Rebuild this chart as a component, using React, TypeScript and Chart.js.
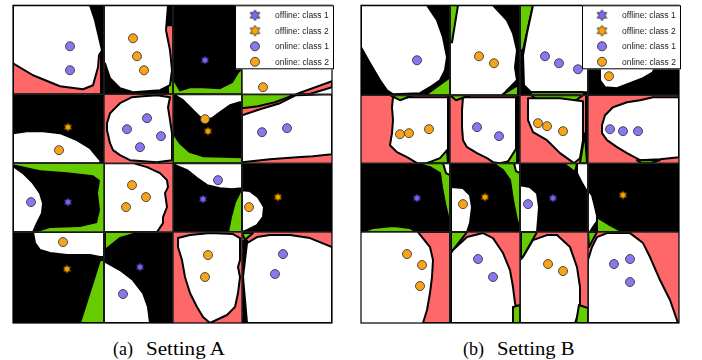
import React, { useEffect, useRef } from 'react';
import { Chart, registerables } from 'chart.js';
Chart.register(...registerables);

type Region = { t: number; c: string; p: number[] };

const LEGEND_LABELS = ['offline: class 1', 'offline: class 2', 'online: class 1', 'online: class 2'];
const CAPTION_A = ['(a)', 'Setting A'];
const CAPTION_B = ['(b)', 'Setting B'];

const FILL: Record<string, string> = { k: '#000000', w: '#ffffff', r: '#ff6868', g: '#66cc00' };
const PURPLE = '#8877ee';
const ORANGE = '#f7a41c';
const PURPLE_STAR = '#7b6af0';
const ORANGE_STAR = '#ffa500';

// ---------- Setting A ----------
const colEdgesA = [0, 91, 160, 229, 319];
const rowEdgesA = [0, 89, 158, 227, 318];
const tileFillA = ['k', 'k', 'k', 'w', 'k', 'r', 'k', 'r', 'g', 'r', 'k', 'k', 'k', 'k', 'r', 'r'];
const regionsA: Region[] = [
  { t: 0, c: 'r', p: [0, 50, 88, 40, 88, 89, 0, 89] },
  { t: 0, c: 'w', p: [0, 0, 77, 0, 82, 15, 85, 28, 89, 45, 86, 50, 85, 62, 80, 80, 70, 84, 47, 81, 20, 70, 0, 58] },
  { t: 1, c: 'r', p: [153, 20, 160, 20, 160, 80, 153, 80] },
  { t: 1, c: 'g', p: [155, 75, 160, 75, 160, 89, 155, 89] },
  { t: 1, c: 'w', p: [91, 0, 155, 0, 153, 25, 157, 45, 159, 65, 157, 80, 147, 85, 120, 87, 107, 83, 97, 73, 92, 58, 91, 58] },
  { t: 2, c: 'g', p: [160, 73, 167, 85, 177, 82, 190, 82, 207, 83, 219, 77, 225, 67, 229, 63, 229, 89, 160, 89] },
  { t: 3, c: 'r', p: [283, 89, 319, 76, 319, 82, 296, 89] },
  { t: 4, c: 'w', p: [0, 128, 14, 126, 30, 126, 47, 128, 64, 135, 77, 143, 87, 155, 88, 158, 0, 158] },
  { t: 5, c: 'w', p: [119, 92, 130, 91, 144, 90, 157, 92, 155, 102, 157, 115, 159, 128, 159, 155, 144, 157, 117, 155, 107, 150, 100, 145, 97, 138, 94, 125, 94, 118, 97, 108, 107, 98] },
  { t: 6, c: 'w', p: [160, 89, 170, 95, 180, 105, 187, 112, 192, 115, 199, 113, 207, 107, 217, 100, 227, 97, 229, 97, 229, 89] },
  { t: 6, c: 'g', p: [160, 128, 167, 138, 177, 147, 190, 151, 229, 152, 229, 158, 160, 158] },
  { t: 7, c: 'g', p: [229, 89, 283, 89, 262, 97, 245, 101, 229, 103] },
  { t: 7, c: 'w', p: [229, 110, 247, 104, 257, 101, 267, 98, 283, 90, 319, 89, 319, 149, 300, 151, 284, 152, 257, 154, 229, 157] },
  { t: 8, c: 'k', p: [0, 159, 27, 165, 54, 167, 80, 170, 87, 175, 85, 188, 87, 205, 84, 218, 67, 222, 37, 223, 24, 227, 0, 227] },
  { t: 8, c: 'w', p: [0, 161, 10, 168, 20, 178, 27, 188, 30, 198, 29, 208, 24, 218, 20, 227, 0, 227] },
  { t: 9, c: 'w', p: [91, 158, 120, 158, 134, 162, 147, 168, 154, 175, 155, 182, 152, 188, 154, 202, 150, 212, 150, 218, 144, 227, 91, 227] },
  { t: 10, c: 'w', p: [160, 158, 229, 158, 229, 183, 219, 184, 207, 183, 194, 180, 184, 173, 174, 165, 162, 160] },
  { t: 10, c: 'g', p: [215, 227, 218, 212, 222, 197, 228, 185, 229, 185, 229, 227] },
  { t: 11, c: 'w', p: [229, 185, 237, 186, 245, 192, 251, 202, 250, 212, 244, 220, 234, 225, 229, 227] },
  { t: 12, c: 'w', p: [20, 227, 91, 227, 91, 252, 87, 252, 77, 250, 54, 250, 37, 248, 27, 245, 22, 238] },
  { t: 12, c: 'g', p: [67, 318, 87, 255, 91, 255, 91, 318] },
  { t: 13, c: 'g', p: [92, 227, 127, 227, 107, 233, 92, 245] },
  { t: 13, c: 'w', p: [91, 256, 107, 265, 120, 275, 130, 288, 135, 302, 137, 318, 91, 318] },
  { t: 14, c: 'w', p: [165, 233, 177, 230, 197, 228, 220, 229, 227, 233, 227, 255, 225, 262, 227, 272, 225, 288, 222, 302, 214, 310, 197, 318, 190, 312, 184, 302, 177, 288, 172, 272, 169, 255, 165, 242] },
  { t: 15, c: 'k', p: [229, 235, 235, 235, 237, 318, 229, 318] },
  { t: 15, c: 'g', p: [229, 228, 240, 228, 232, 235] },
  { t: 15, c: 'w', p: [234, 238, 244, 232, 257, 230, 277, 230, 297, 233, 319, 242, 319, 318, 234, 318, 232, 295, 230, 272, 232, 255] },
];
const offline1A = [[192, 55], [55, 197], [190, 194], [127, 262]];
const offline2A = [[55, 122], [195, 126], [265, 192], [54, 264]];
const online1A = [[57, 41], [57, 65], [134, 113], [114, 124], [148, 131], [127, 142], [249, 127], [274, 123], [18, 197], [205, 175], [110, 289], [270, 249], [262, 269]];
const online2A = [[120, 33], [124, 51], [131, 65], [250, 82], [46, 145], [192, 114], [119, 180], [133, 192], [113, 202], [236, 202], [50, 237], [195, 250], [192, 272]];

// ---------- Setting B ----------
const colEdgesB = [0, 89, 159, 227, 318];
const rowEdgesB = [0, 90, 158, 227, 318];
const tileFillB = ['k', 'k', 'k', 'k', 'r', 'r', 'r', 'r', 'k', 'k', 'k', 'k', 'w', 'r', 'r', 'r'];
const regionsB: Region[] = [
  { t: 0, c: 'w', p: [0, 0, 66, 0, 76, 15, 82, 32, 86, 52, 84, 65, 79, 75, 69, 82, 59, 88, 32, 89, 26, 85, 19, 75, 9, 58, 0, 42] },
  { t: 0, c: 'g', p: [67, 88, 89, 72, 89, 90, 67, 90] },
  { t: 1, c: 'w', p: [89, 0, 132, 0, 146, 15, 152, 28, 156, 45, 154, 62, 156, 75, 146, 85, 142, 90, 89, 90] },
  { t: 1, c: 'g', p: [89, 0, 97, 0, 91, 37, 89, 37] },
  { t: 1, c: 'g', p: [142, 89, 157, 80, 157, 90, 142, 90] },
  { t: 2, c: 'g', p: [159, 0, 172, 0, 162, 45, 159, 45] },
  { t: 2, c: 'w', p: [172, 0, 227, 0, 227, 87, 170, 87, 163, 80, 162, 50, 166, 28] },
  { t: 2, c: 'g', p: [170, 87, 222, 87, 224, 90, 170, 90] },
  { t: 3, c: 'w', p: [239, 40, 300, 40, 292, 67, 282, 73, 269, 78, 256, 83, 244, 82, 239, 75] },
  { t: 4, c: 'w', p: [32, 92, 89, 92, 89, 145, 85, 155, 64, 158, 56, 158, 46, 152, 36, 147, 29, 140, 31, 128, 32, 115, 31, 102] },
  { t: 4, c: 'g', p: [29, 90, 52, 90, 39, 95] },
  { t: 4, c: 'g', p: [66, 158, 79, 153, 86, 145, 87, 158] },
  { t: 4, c: 'k', p: [86, 90, 89, 90, 89, 158, 86, 158] },
  { t: 5, c: 'w', p: [102, 92, 155, 92, 155, 145, 152, 155, 139, 158, 132, 157, 126, 153, 116, 148, 106, 142, 102, 135, 101, 122, 101, 105] },
  { t: 5, c: 'g', p: [89, 90, 109, 90, 95, 95] },
  { t: 5, c: 'g', p: [146, 158, 156, 142, 156, 158] },
  { t: 5, c: 'k', p: [155, 90, 159, 90, 159, 158, 155, 158] },
  { t: 6, c: 'g', p: [170, 90, 222, 90, 215, 95, 175, 94] },
  { t: 6, c: 'w', p: [167, 93, 199, 93, 222, 96, 222, 135, 219, 153, 213, 158, 199, 148, 186, 135, 172, 127, 167, 115] },
  { t: 6, c: 'k', p: [224, 90, 227, 90, 227, 158, 224, 158] },
  { t: 6, c: 'g', p: [219, 158, 224, 128, 226, 158] },
  { t: 7, c: 'w', p: [241, 120, 244, 110, 252, 102, 266, 97, 279, 95, 292, 92, 318, 92, 318, 152, 299, 154, 279, 155, 266, 148, 256, 142, 246, 135, 241, 128] },
  { t: 7, c: 'g', p: [276, 155, 299, 155, 290, 158, 280, 158] },
  { t: 8, c: 'g', p: [0, 227, 12, 223, 32, 221, 49, 223, 56, 227] },
  { t: 8, c: 'g', p: [54, 158, 69, 162, 79, 168, 81, 182, 84, 198, 89, 220, 89, 158] },
  { t: 8, c: 'w', p: [82, 158, 89, 158, 89, 170, 85, 168] },
  { t: 9, c: 'w', p: [90, 182, 102, 183, 109, 190, 111, 202, 109, 218, 106, 227, 90, 227] },
  { t: 9, c: 'g', p: [132, 158, 142, 165, 149, 175, 152, 195, 156, 215, 159, 222, 159, 158] },
  { t: 9, c: 'w', p: [153, 158, 159, 158, 159, 168, 155, 166] },
  { t: 10, c: 'w', p: [159, 180, 169, 182, 176, 188, 178, 202, 177, 215, 176, 227, 159, 227] },
  { t: 10, c: 'g', p: [202, 158, 216, 158, 214, 167] },
  { t: 10, c: 'w', p: [216, 158, 227, 158, 227, 188, 221, 178, 216, 168] },
  { t: 11, c: 'w', p: [227, 185, 231, 190, 234, 202, 237, 215, 232, 222, 229, 227, 227, 227] },
  { t: 11, c: 'g', p: [236, 212, 249, 220, 262, 227, 236, 227] },
  { t: 12, c: 'r', p: [57, 227, 69, 242, 72, 255, 71, 272, 69, 288, 66, 305, 62, 318, 89, 318, 89, 227] },
  { t: 13, c: 'g', p: [90, 227, 106, 227, 92, 245, 90, 245] },
  { t: 13, c: 'w', p: [92, 245, 106, 232, 122, 228, 132, 233, 142, 248, 149, 265, 152, 282, 154, 298, 156, 305, 156, 318, 90, 318, 90, 248] },
  { t: 13, c: 'g', p: [152, 302, 159, 300, 159, 318, 152, 318] },
  { t: 14, c: 'g', p: [160, 227, 176, 227, 162, 252, 160, 252] },
  { t: 14, c: 'w', p: [162, 252, 172, 235, 186, 230, 196, 230, 209, 242, 216, 262, 219, 282, 219, 298, 217, 310, 214, 318, 159, 318, 159, 255] },
  { t: 14, c: 'g', p: [218, 300, 227, 303, 227, 318, 215, 318] },
  { t: 15, c: 'g', p: [227, 227, 236, 227, 228, 242] },
  { t: 15, c: 'w', p: [231, 242, 236, 232, 246, 228, 269, 228, 282, 238, 289, 252, 299, 275, 309, 295, 317, 318, 227, 318, 227, 255] },
];
const offline1B = [[56, 193], [192, 193]];
const offline2B = [[124, 192], [262, 190]];
const online1B = [[56, 55], [184, 51], [198, 58], [217, 64], [116, 122], [138, 131], [249, 124], [262, 126], [277, 126], [167, 199], [117, 254], [132, 272], [253, 259], [269, 254], [269, 277]];
const online2B = [[118, 51], [133, 58], [248, 71], [39, 129], [48, 128], [68, 124], [177, 118], [186, 121], [202, 126], [102, 199], [46, 249], [61, 260], [59, 281], [187, 259], [202, 266]];

function makeStar(r: number, fill: string, stroke: string, lw: number): HTMLCanvasElement {
  const s = Math.ceil(2 * r + 2 * lw + 2);
  const c = document.createElement('canvas');
  c.width = s;
  c.height = s;
  const ctx = c.getContext('2d')!;
  ctx.translate(s / 2, s / 2);
  ctx.beginPath();
  for (let i = 0; i < 12; i++) {
    const a = -Math.PI / 2 + (i * Math.PI) / 6;
    const rr = i % 2 === 0 ? r : r * 0.58;
    ctx.lineTo(rr * Math.cos(a), rr * Math.sin(a));
  }
  ctx.closePath();
  ctx.fillStyle = fill;
  ctx.fill();
  if (lw > 0) {
    ctx.lineWidth = lw;
    ctx.strokeStyle = stroke;
    ctx.lineJoin = 'miter';
    ctx.stroke();
  }
  return c;
}

type PanelProps = {
  left: number;
  width: number;
  height: number;
  pad: { left: number; right: number; top: number; bottom: number };
  xMax: number;
  yMax: number;
  cols: number[];
  rows: number[];
  fills: string[];
  regions: Region[];
  off1: number[][];
  off2: number[][];
  on1: number[][];
  on2: number[][];
};

function Panel(props: PanelProps) {
  const ref = useRef<HTMLCanvasElement>(null);
  useEffect(() => {
    const canvas = ref.current;
    if (!canvas) return;
    const starP = makeStar(4, PURPLE_STAR, '#3d2f9a', 0.5);
    const starO = makeStar(4, ORANGE_STAR, '#8a5a00', 0.5);
    const legStarP = makeStar(5.5, PURPLE_STAR, '#222', 0.8);
    const legStarO = makeStar(5.5, ORANGE_STAR, '#222', 0.8);
    const toXY = (a: number[][]) => a.map(([x, y]) => ({ x, y }));

    const regionPlugin = {
      id: 'regions',
      beforeDatasetsDraw(chart: any) {
        const { ctx } = chart;
        const xs = chart.scales.x;
        const ys = chart.scales.y;
        const px = (v: number) => xs.getPixelForValue(v);
        const py = (v: number) => ys.getPixelForValue(v);
        ctx.save();
        for (let r = 0; r < 4; r++) {
          for (let c = 0; c < 4; c++) {
            const t = r * 4 + c;
            const x0 = px(props.cols[c]);
            const x1 = px(props.cols[c + 1]);
            const y0 = py(props.rows[r]);
            const y1 = py(props.rows[r + 1]);
            ctx.save();
            ctx.beginPath();
            ctx.rect(x0, y0, x1 - x0, y1 - y0);
            ctx.clip();
            ctx.fillStyle = FILL[props.fills[t]];
            ctx.fillRect(x0, y0, x1 - x0, y1 - y0);
            for (const reg of props.regions) {
              if (reg.t !== t) continue;
              ctx.beginPath();
              for (let i = 0; i < reg.p.length; i += 2) {
                const X = px(reg.p[i]);
                const Y = py(reg.p[i + 1]);
                if (i === 0) ctx.moveTo(X, Y);
                else ctx.lineTo(X, Y);
              }
              ctx.closePath();
              ctx.fillStyle = FILL[reg.c];
              ctx.fill();
              if (reg.c !== 'k') {
                ctx.lineWidth = 2;
                ctx.lineJoin = 'round';
                ctx.strokeStyle = '#000';
                ctx.stroke();
              }
            }
            ctx.restore();
          }
        }
        ctx.strokeStyle = '#222';
        ctx.lineWidth = 1.5;
        const top = py(props.rows[0]);
        const bot = py(props.rows[4]);
        const lft = px(props.cols[0]);
        const rgt = px(props.cols[4]);
        for (let i = 1; i < 4; i++) {
          const X = px(props.cols[i]);
          ctx.beginPath();
          ctx.moveTo(X, top);
          ctx.lineTo(X, bot);
          ctx.stroke();
          const Y = py(props.rows[i]);
          ctx.beginPath();
          ctx.moveTo(lft, Y);
          ctx.lineTo(rgt, Y);
          ctx.stroke();
        }
        ctx.strokeStyle = '#000';
        ctx.lineWidth = 1.2;
        ctx.strokeRect(lft, top, rgt - lft, bot - top);
        ctx.restore();
      },
    };

    const legendPlugin = {
      id: 'boxLegend',
      afterDatasetsDraw(chart: any) {
        const { ctx, chartArea } = chart;
        const w = 99;
        const h = 64;
        const bx = chartArea.right + 2 - w;
        const by = chartArea.top;
        ctx.save();
        ctx.fillStyle = '#fff';
        ctx.fillRect(bx, by, w, h);
        ctx.strokeStyle = '#000';
        ctx.lineWidth = 1;
        ctx.strokeRect(bx + 0.5, by + 0.5, w - 1, h - 1);
        ctx.font = '8.5px "Liberation Sans", Arial, Helvetica, sans-serif';
        ctx.textBaseline = 'middle';
        ctx.textAlign = 'left';
        const markers = [legStarP, legStarO, PURPLE, ORANGE];
        chart.data.datasets.forEach((ds: any, i: number) => {
          const cy = by + 10 + i * 15.5;
          const mx = bx + 20;
          const m = markers[i];
          if (typeof m === 'string') {
            ctx.beginPath();
            ctx.arc(mx, cy, 4.5, 0, Math.PI * 2);
            ctx.fillStyle = m;
            ctx.fill();
            ctx.lineWidth = 0.8;
            ctx.strokeStyle = '#222';
            ctx.stroke();
          } else {
            ctx.drawImage(m, mx - m.width / 2, cy - m.height / 2);
          }
          ctx.fillStyle = '#222';
          ctx.fillText(ds.label, bx + 40, cy + 0.5);
        });
        ctx.restore();
      },
    };

    const chart = new Chart(canvas, {
      type: 'scatter',
      data: {
        datasets: [
          { label: LEGEND_LABELS[0], data: toXY(props.off1), pointStyle: starP as any, pointRadius: 4, order: 1 },
          { label: LEGEND_LABELS[1], data: toXY(props.off2), pointStyle: starO as any, pointRadius: 4, order: 2 },
          {
            label: LEGEND_LABELS[2],
            data: toXY(props.on1),
            pointStyle: 'circle',
            pointRadius: 4.5,
            pointBackgroundColor: PURPLE,
            pointBorderColor: '#2a2a2a',
            pointBorderWidth: 0.8,
            order: 3,
          },
          {
            label: LEGEND_LABELS[3],
            data: toXY(props.on2),
            pointStyle: 'circle',
            pointRadius: 4.5,
            pointBackgroundColor: ORANGE,
            pointBorderColor: '#2a2a2a',
            pointBorderWidth: 0.8,
            order: 4,
          },
        ],
      },
      options: {
        animation: false,
        responsive: false,
        maintainAspectRatio: false,
        events: [],
        layout: { padding: props.pad },
        scales: {
          x: { type: 'linear', min: 0, max: props.xMax, display: false },
          y: { type: 'linear', min: 0, max: props.yMax, reverse: true, display: false },
        },
        plugins: { legend: { display: false }, tooltip: { enabled: false } },
      },
      plugins: [regionPlugin, legendPlugin],
    });
    return () => chart.destroy();
  }, []);
  return (
    <canvas
      ref={ref}
      width={props.width}
      height={props.height}
      style={{ position: 'absolute', left: props.left, top: 0, width: props.width, height: props.height }}
    />
  );
}

const capFont: React.CSSProperties = {
  position: 'absolute',
  top: 340,
  fontFamily: '"Liberation Serif", "Times New Roman", serif',
  fontSize: 18,
  lineHeight: '18px',
  color: '#000',
  whiteSpace: 'nowrap',
  transformOrigin: '0 50%',
};

export default function App() {
  return (
    <div style={{ position: 'absolute', left: 0, top: 0, width: 702, height: 360, background: '#fff', overflow: 'hidden' }}>
      <Panel
        left={0}
        width={351}
        height={330}
        pad={{ left: 13, right: 19, top: 5, bottom: 7 }}
        xMax={319}
        yMax={318}
        cols={colEdgesA}
        rows={rowEdgesA}
        fills={tileFillA}
        regions={regionsA}
        off1={offline1A}
        off2={offline2A}
        on1={online1A}
        on2={online2A}
      />
      <Panel
        left={351}
        width={351}
        height={330}
        pad={{ left: 10, right: 23, top: 5, bottom: 7 }}
        xMax={318}
        yMax={318}
        cols={colEdgesB}
        rows={rowEdgesB}
        fills={tileFillB}
        regions={regionsB}
        off1={offline1B}
        off2={offline2B}
        on1={online1B}
        on2={online2B}
      />
      <span style={{ ...capFont, left: 113 }}>{CAPTION_A[0]}</span>
      <span style={{ ...capFont, left: 146, transform: 'scaleX(1.17)' }}>{CAPTION_A[1]}</span>
      <span style={{ ...capFont, left: 463 }}>{CAPTION_B[0]}</span>
      <span style={{ ...capFont, left: 497, transform: 'scaleX(1.15)' }}>{CAPTION_B[1]}</span>
    </div>
  );
}
